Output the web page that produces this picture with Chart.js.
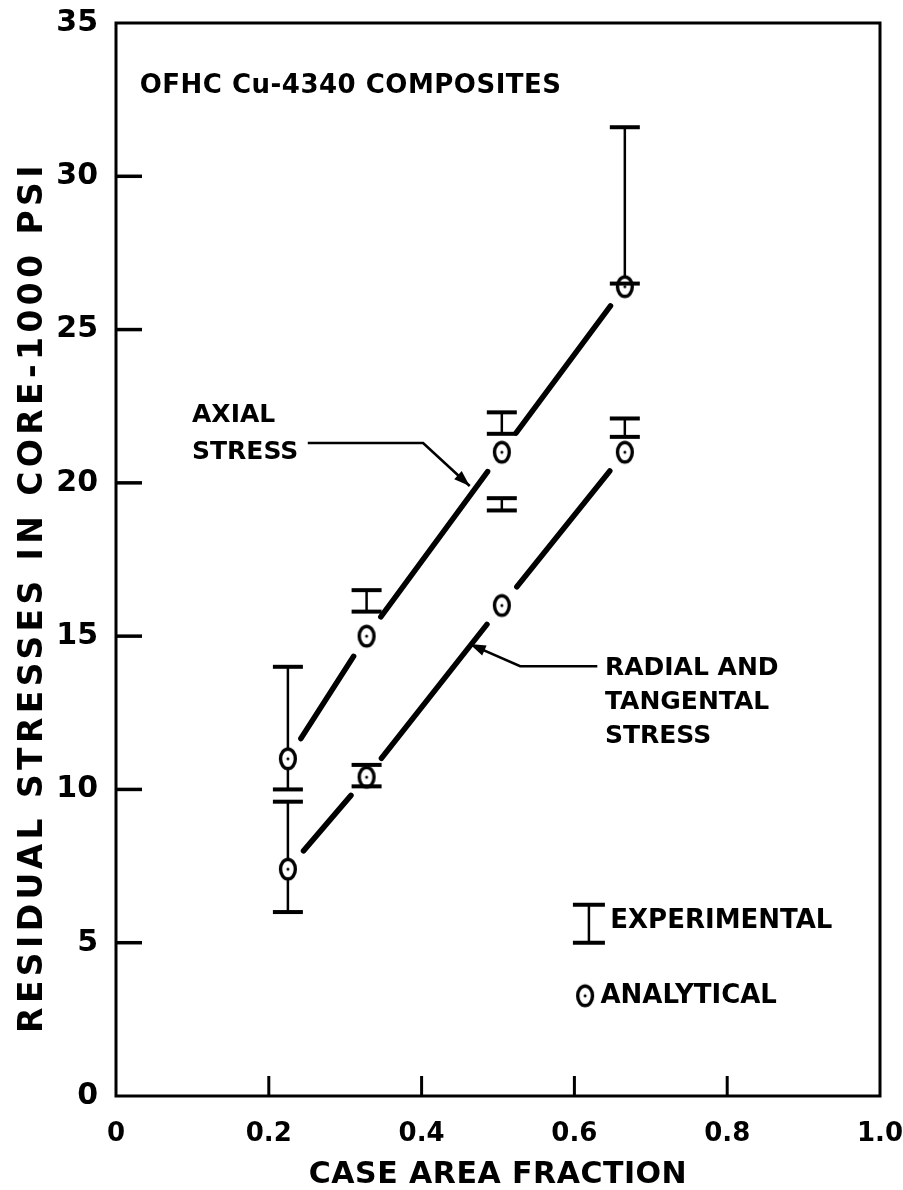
<!DOCTYPE html>
<html><head><meta charset="utf-8">
<script src="https://cdn.jsdelivr.net/npm/chart.js@4"></script>
<style>html,body{margin:0;padding:0;background:#fff}#wrap{width:903px;height:1190px;position:relative}</style>
</head><body><div id="wrap"><canvas id="c"></canvas></div>
<script>
// ---- data ----
const caseAreaFraction = [0.225, 0.328, 0.505, 0.666];
const axialAnalytical  = [11.0, 15.0, 21.0, 26.4];
const axialExpLow      = [10.0, 15.8, 21.6, 26.5];
const axialExpHigh     = [14.0, 16.5, 22.3, 31.6];
const radialAnalytical = [7.4, 10.4, 16.0, 21.0];
const radialExpLow     = [6.0, 10.1, 19.1, 21.5];
const radialExpHigh    = [9.6, 10.8, 19.5, 22.1];
const xTickValues = [0, 0.2, 0.4, 0.6, 0.8, 1.0];
const xTickLabels = ['0', '0.2', '0.4', '0.6', '0.8', '1.0'];
const yTickValues = [0, 5, 10, 15, 20, 25, 30, 35];
const yTickLabels = ['0', '5', '10', '15', '20', '25', '30', '35'];
const chartTitle = 'OFHC Cu-4340 COMPOSITES';
const xTitle = 'CASE AREA FRACTION';
const yTitle = 'RESIDUAL STRESSES IN CORE-1000 PSI';
const axialLabel = ['AXIAL', 'STRESS'];
const radialLabel = ['RADIAL AND', 'TANGENTAL', 'STRESS'];
const legendExp = 'EXPERIMENTAL';
const legendAna = 'ANALYTICAL';

const FONT = "'DejaVu Sans', 'Liberation Sans', sans-serif";
const INK = '#000';

function makeO() {
  const c = document.createElement('canvas');
  c.width = 22; c.height = 28;
  const g = c.getContext('2d');
  g.fillStyle = '#fff';
  g.beginPath(); g.ellipse(11, 14, 7.4, 9.8, 0, 0, Math.PI * 2); g.fill();
  g.lineWidth = 3.4; g.strokeStyle = INK; g.stroke();
  g.fillStyle = INK;
  g.beginPath(); g.arc(11, 14, 1.5, 0, Math.PI * 2); g.fill();
  return c;
}
const oImg = makeO();

function pts(ys) { return caseAreaFraction.map((x, i) => ({x, y: ys[i]})); }

function spacedText(ctx, text, px, py, spacing) {
  if ('letterSpacing' in ctx) { ctx.letterSpacing = spacing + 'px'; ctx.fillText(text, px, py); ctx.letterSpacing = '0px'; }
  else ctx.fillText(text, px, py);
}

const decor = {
  id: 'decor',
  beforeDatasetsDraw(chart) {
    const {ctx, chartArea: a, scales: {x, y}} = chart;
    ctx.save();
    ctx.strokeStyle = INK; ctx.fillStyle = INK;
    // frame
    ctx.lineWidth = 3;
    ctx.strokeRect(a.left, a.top, a.right - a.left, a.bottom - a.top);
    // inward ticks
    ctx.lineWidth = 3.5; ctx.lineCap = 'butt';
    yTickValues.slice(1, -1).forEach(v => {
      const py = y.getPixelForValue(v);
      ctx.beginPath(); ctx.moveTo(a.left, py); ctx.lineTo(a.left + 26, py); ctx.stroke();
    });
    ctx.lineWidth = 3;
    xTickValues.slice(1, -1).forEach(v => {
      const px = x.getPixelForValue(v);
      ctx.beginPath(); ctx.moveTo(px, a.bottom); ctx.lineTo(px, a.bottom - 20); ctx.stroke();
    });
    // analytical lines with gaps near points
    const gap = 24;
    ctx.lineWidth = 5.5; ctx.lineCap = 'round';
    [axialAnalytical, radialAnalytical].forEach(ys => {
      for (let i = 0; i < ys.length - 1; i++) {
        const x0 = x.getPixelForValue(caseAreaFraction[i]), y0 = y.getPixelForValue(ys[i]);
        const x1 = x.getPixelForValue(caseAreaFraction[i + 1]), y1 = y.getPixelForValue(ys[i + 1]);
        const L = Math.hypot(x1 - x0, y1 - y0), ux = (x1 - x0) / L, uy = (y1 - y0) / L;
        ctx.beginPath();
        ctx.moveTo(x0 + ux * gap, y0 + uy * gap);
        ctx.lineTo(x1 - ux * gap, y1 - uy * gap);
        ctx.stroke();
      }
    });
    // error bar stems
    ctx.lineWidth = 2.5; ctx.lineCap = 'butt';
    [[axialExpLow, axialExpHigh], [radialExpLow, radialExpHigh]].forEach(([lo, hi]) => {
      lo.forEach((l, i) => {
        const px = x.getPixelForValue(caseAreaFraction[i]);
        ctx.beginPath(); ctx.moveTo(px, y.getPixelForValue(l)); ctx.lineTo(px, y.getPixelForValue(hi[i])); ctx.stroke();
      });
    });
    ctx.restore();
  },
  afterDatasetsDraw(chart) {
    const {ctx, chartArea: a, scales: {x, y}} = chart;
    ctx.save();
    ctx.strokeStyle = INK; ctx.fillStyle = INK;
    // error bar caps
    ctx.lineWidth = 4; ctx.lineCap = 'butt';
    const capHalf = 15;
    [[axialExpLow, axialExpHigh], [radialExpLow, radialExpHigh]].forEach(([lo, hi]) => {
      lo.forEach((l, i) => {
        const px = x.getPixelForValue(caseAreaFraction[i]);
        [l, hi[i]].forEach(v => {
          const py = y.getPixelForValue(v);
          ctx.beginPath(); ctx.moveTo(px - capHalf, py); ctx.lineTo(px + capHalf, py); ctx.stroke();
        });
      });
    });
    // text annotations
    ctx.textBaseline = 'middle'; ctx.textAlign = 'left';
    ctx.font = 'bold 26px ' + FONT;
    spacedText(ctx, chartTitle, x.getPixelForValue(0.031), y.getPixelForValue(32.94), 0.5);
    ctx.font = 'bold 25px ' + FONT;
    ctx.fillText(axialLabel[0], x.getPixelForValue(0.0995), y.getPixelForValue(22.2));
    ctx.fillText(axialLabel[1], x.getPixelForValue(0.0995), y.getPixelForValue(21.0));
    ctx.fillText(radialLabel[0], x.getPixelForValue(0.640), y.getPixelForValue(13.95));
    ctx.fillText(radialLabel[1], x.getPixelForValue(0.640), y.getPixelForValue(12.84));
    ctx.fillText(radialLabel[2], x.getPixelForValue(0.640), y.getPixelForValue(11.73));
    // arrows
    function arrow(path) {
      const p = path.map(([dx, dy]) => [x.getPixelForValue(dx), y.getPixelForValue(dy)]);
      ctx.lineWidth = 2.6;
      ctx.beginPath(); ctx.moveTo(p[0][0], p[0][1]);
      for (let k = 1; k < p.length; k++) ctx.lineTo(p[k][0], p[k][1]);
      ctx.stroke();
      const [ax, ay] = p[p.length - 2], [tx, ty] = p[p.length - 1];
      const ang = Math.atan2(ty - ay, tx - ax), len = 16, w = 5.5;
      ctx.beginPath();
      ctx.moveTo(tx, ty);
      ctx.lineTo(tx - len * Math.cos(ang) + w * Math.sin(ang), ty - len * Math.sin(ang) - w * Math.cos(ang));
      ctx.lineTo(tx - len * Math.cos(ang) - w * Math.sin(ang), ty - len * Math.sin(ang) + w * Math.cos(ang));
      ctx.closePath(); ctx.fill();
    }
    arrow([[0.251, 21.3], [0.402, 21.3], [0.463, 19.9]]);
    arrow([[0.630, 14.02], [0.529, 14.02], [0.463, 14.74]]);
    // legend
    const lx = x.getPixelForValue(0.619);
    const lTop = y.getPixelForValue(6.24), lBot = y.getPixelForValue(5.0);
    ctx.lineWidth = 2.5;
    ctx.beginPath(); ctx.moveTo(lx, lTop); ctx.lineTo(lx, lBot); ctx.stroke();
    ctx.lineWidth = 4;
    [lTop, lBot].forEach(py => { ctx.beginPath(); ctx.moveTo(lx - 16, py); ctx.lineTo(lx + 16, py); ctx.stroke(); });
    ctx.font = 'bold 26px ' + FONT;
    ctx.fillText(legendExp, x.getPixelForValue(0.647), y.getPixelForValue(5.69));
    const ox = x.getPixelForValue(0.614), oy = y.getPixelForValue(3.27);
    ctx.drawImage(oImg, ox - oImg.width / 2, oy - oImg.height / 2);
    ctx.fillText(legendAna, x.getPixelForValue(0.634), oy);
    // axis titles
    ctx.textAlign = 'center';
    ctx.font = 'bold 30px ' + FONT;
    spacedText(ctx, xTitle, (a.left + a.right) / 2, chart.height - 15, 0.5);
    ctx.save();
    ctx.translate(33, 597);
    ctx.rotate(-Math.PI / 2);
    ctx.font = 'bold 33px ' + FONT;
    spacedText(ctx, yTitle, 0, 0, 4.4);
    ctx.restore();
    ctx.restore();
  }
};

new Chart(document.getElementById('c'), {
  type: 'scatter',
  data: {
    datasets: [
      {label: 'Axial stress (analytical)', data: pts(axialAnalytical), pointStyle: oImg, showLine: false},
      {label: 'Radial and tangental stress (analytical)', data: pts(radialAnalytical), pointStyle: oImg, showLine: false}
    ]
  },
  plugins: [decor],
  options: {
    responsive: true,
    maintainAspectRatio: false,
    animation: false,
    layout: {padding: {top: 23, right: 23, left: 0, bottom: 0}},
    plugins: {legend: {display: false}, tooltip: {enabled: false}},
    scales: {
      x: {
        type: 'linear', min: 0, max: 1,
        afterBuildTicks: s => { s.ticks = xTickValues.map(v => ({value: v})); },
        afterFit: s => { s.height = 94; s.paddingLeft = 0; s.paddingRight = 0; },
        grid: {display: false},
        border: {display: false},
        ticks: {
          color: INK, font: {family: FONT, weight: 'bold', size: 26},
          padding: 15, maxRotation: 0, autoSkip: false,
          callback: (v, i) => xTickLabels[i]
        },
        title: {display: false, text: xTitle}
      },
      y: {
        type: 'linear', min: 0, max: 35,
        afterBuildTicks: s => { s.ticks = yTickValues.map(v => ({value: v})); },
        afterFit: s => { s.width = 116; s.paddingTop = 0; s.paddingBottom = 0; },
        grid: {display: false},
        border: {display: false},
        ticks: {
          color: INK, font: {family: FONT, size: 30, weight: 'bold'}, padding: 10, autoSkip: false,
          callback: (v, i) => yTickLabels[i]
        },
        title: {display: false, text: yTitle}
      }
    }
  }
});
</script>
</body></html>
